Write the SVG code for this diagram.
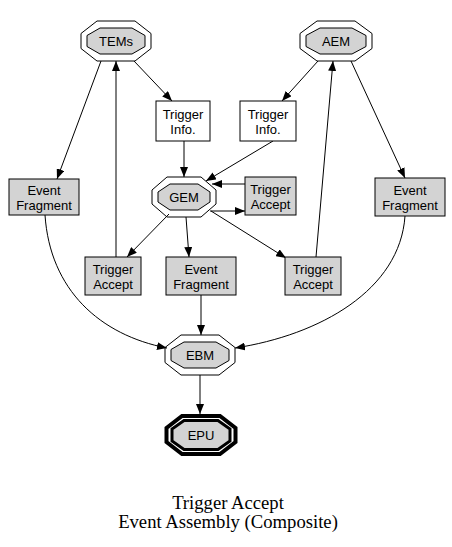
<svg xmlns="http://www.w3.org/2000/svg" width="452" height="547" viewBox="0 0 452 547">
<style>
.o{fill:none;stroke:#000;stroke-width:1}
.i{fill:#d3d3d3;stroke:#000;stroke-width:1}
.bw{fill:#fff;stroke:#000;stroke-width:1}
.bg{fill:#d3d3d3;stroke:#000;stroke-width:1}
.t{font-family:"Liberation Sans",Arial,sans-serif;font-size:13px;text-anchor:middle;fill:#000}
.ttl{font-family:"Liberation Serif","Times New Roman",serif;font-size:18.67px;text-anchor:middle;fill:#000}
.e{fill:none;stroke:#000;stroke-width:1;marker-end:url(#ah)}
</style>
<defs>
<marker id="ah" markerUnits="userSpaceOnUse" markerWidth="10" markerHeight="8" refX="10" refY="4" orient="auto">
<path d="M0,0 L10,4 L0,8 z" fill="#000"/>
</marker>
</defs>
<rect width="452" height="547" fill="#fff"/>
<g id="edges">
<path class="e" d="M101,61 L57,179"/>
<path class="e" d="M134,61 L172,101"/>
<path class="e" d="M116,257 L116,61"/>
<path class="e" d="M318,61 L282,101"/>
<path class="e" d="M351,61 L405,178"/>
<path class="e" d="M316,257 L333,61"/>
<path class="e" d="M184,141 L184,177"/>
<path class="e" d="M273,141 L206,181"/>
<path class="e" d="M245,184 L212,184"/>
<path class="e" d="M210,211 L245,211"/>
<path class="e" d="M169,214 L127,257"/>
<path class="e" d="M186,217 L189,257"/>
<path class="e" d="M211,211 L286,258"/>
<path class="e" d="M45,215 C50,290 100,335 167,348"/>
<path class="e" d="M201,295 L201,335"/>
<path class="e" d="M405,216 C400,290 320,335 235,348"/>
<path class="e" d="M200,375 L200,414"/>
</g>
<g id="TEMs">
<polygon class="o" points="97,21 135,21 151,33.5 151,48.5 135,61 97,61 81,48.5 81,33.5"/>
<polygon class="i" points="100,28 132,28 145,35.5 145,46.5 132,54 100,54 87,46.5 87,35.5"/>
<text class="t" x="116" y="46">TEMs</text>
</g>
<g id="AEM">
<polygon class="o" points="317,21 355,21 372,33.5 372,48.5 355,61 317,61 300,48.5 300,33.5"/>
<polygon class="i" points="320,28 352,28 366,35.5 366,46.5 352,54 320,54 306,46.5 306,35.5"/>
<text class="t" x="336" y="46">AEM</text>
</g>
<g id="TrigInfoL">
<rect class="bw" x="156" y="101" width="54" height="40"/>
<text class="t" x="183" y="119">Trigger</text>
<text class="t" x="183" y="134">Info.</text>
</g>
<g id="TrigInfoR">
<rect class="bw" x="240" y="101" width="56" height="40"/>
<text class="t" x="268" y="119">Trigger</text>
<text class="t" x="268" y="134">Info.</text>
</g>
<g id="GEM">
<polygon class="o" points="167,177 201,177 216,190 216,204 201,217 167,217 152,204 152,190"/>
<polygon class="i" points="170,184 198,184 210,192 210,202 198,210 170,210 158,202 158,192"/>
<text class="t" x="184" y="202">GEM</text>
</g>
<g id="TrigAccG">
<rect class="bg" x="245" y="177" width="51" height="38"/>
<text class="t" x="270.5" y="194">Trigger</text>
<text class="t" x="270.5" y="209">Accept</text>
</g>
<g id="EvFragL">
<rect class="bg" x="9" y="179" width="70" height="36"/>
<text class="t" x="44" y="195">Event</text>
<text class="t" x="44" y="210">Fragment</text>
</g>
<g id="EvFragR">
<rect class="bg" x="375" y="178" width="70" height="38"/>
<text class="t" x="410" y="195">Event</text>
<text class="t" x="410" y="210">Fragment</text>
</g>
<g id="TrigAccL">
<rect class="bg" x="85" y="257" width="56" height="38"/>
<text class="t" x="113" y="274">Trigger</text>
<text class="t" x="113" y="289">Accept</text>
</g>
<g id="EvFragM">
<rect class="bg" x="166" y="257" width="70" height="38"/>
<text class="t" x="201" y="274">Event</text>
<text class="t" x="201" y="289">Fragment</text>
</g>
<g id="TrigAccR">
<rect class="bg" x="285" y="257" width="56" height="38"/>
<text class="t" x="313" y="274">Trigger</text>
<text class="t" x="313" y="289">Accept</text>
</g>
<g id="EBM">
<polygon class="o" points="181,335 219,335 235,347.5 235,362.5 219,375 181,375 165,362.5 165,347.5"/>
<polygon class="i" points="184,342 216,342 229,349.5 229,360.5 216,368 184,368 171,360.5 171,349.5"/>
<text class="t" x="200" y="360">EBM</text>
</g>
<g id="EPU">
<polygon fill="none" stroke="#000" stroke-width="4" points="182,416 220,416 235.5,428 235.5,442 220,454 182,454 166.5,442 166.5,428"/>
<polygon fill="#d3d3d3" stroke="#000" stroke-width="3" points="184,420.5 218,420.5 230,429 230,441 218,449.5 184,449.5 172,441 172,429"/>
<text class="t" x="201" y="440">EPU</text>
</g>
<g id="title">
<text class="ttl" x="228" y="509">Trigger Accept</text>
<text class="ttl" x="228" y="528">Event Assembly (Composite)</text>
</g>
</svg>
